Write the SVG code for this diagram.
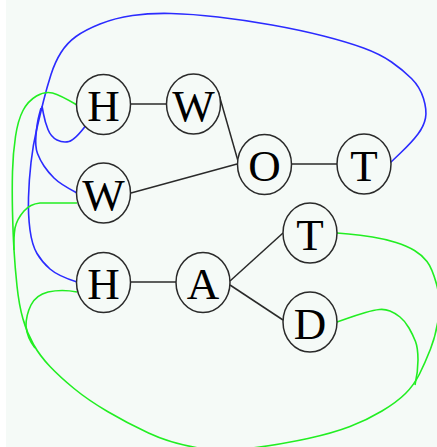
<svg xmlns="http://www.w3.org/2000/svg" width="437" height="447" viewBox="0 0 437 447">
  <style>
    .node ellipse { fill: #f5faf7; stroke: #2a2a2a; stroke-width: 1.5; }
    .node text { font-family: "Liberation Serif", "Times New Roman", serif; font-size: 45px; fill: #000; text-anchor: middle; }
    .edge { stroke: #2a2a2a; stroke-width: 1.5; fill: none; }
    .blue { stroke: #2b2bff; stroke-width: 1.6; fill: none; }
    .green { stroke: #22ee22; stroke-width: 1.6; fill: none; }
  </style>
  <rect x="0" y="0" width="437" height="447" fill="#ffffff"/>
  <rect x="6" y="0" width="431" height="447" fill="#f5faf7"/>

  <g id="connectors">
    <!-- tree edges -->
    <path class="edge" d="M130.5,104 H166.5"/>
    <path class="edge" d="M218,91 L238,161"/>
    <path class="edge" d="M131,193 L237,164"/>
    <path class="edge" d="M291.5,164 H337"/>
    <path class="edge" d="M130.5,282 H176"/>
    <path class="edge" d="M230,281 L283,233"/>
    <path class="edge" d="M230,285 L283,320"/>

    <!-- blue bundle -->
    <path class="blue" d="M390,163 L401,152.5 Q412,142 418,134 Q424,126 425.5,118 Q427,110 423.5,98.5 Q420,87 411.5,78.5 Q403,70 391.5,62 Q380,54 363.5,48 Q347,42 323.5,36 Q300,30 272,25 Q244,20 218,17 Q192,14 171,13.5 Q150,13 132.5,15.5 Q115,18 100,24 Q85,30 76,36.5 Q67,43 61,52.5 Q55,62 51,74.5 Q47,87 43.5,101 Q40,115 36.5,130 Q33,145 31,162.5 Q29,180 28.5,197.5 Q28,215 30,230 Q32,245 37,253.5 Q42,262 50,269 Q58,276 77,282"/>
    <path class="blue" d="M42,106 L43.5,114 Q45,122 48,129.5 Q51,137 57,140 Q63,143 69,141.5 Q75,140 87,124"/>
    <path class="blue" d="M41,108 L39,115.5 Q37,123 36,135 Q35,147 37.5,153.5 Q40,160 44,166 Q48,172 54,178 Q60,184 77,193"/>

    <!-- green bundle -->
    <path class="green" d="M337,233 L348.5,234 Q360,235 372.5,237 Q385,239 396,242.5 Q407,246 414.5,250.5 Q422,255 427,261.5 Q432,268 436.5,284 Q441,300 438.5,317.5 Q436,335 430.5,349 Q425,363 419.5,374 Q414,385 405.5,393.5 Q397,402 382,411 Q367,420 350,426.5 Q333,433 308,438.5 Q283,444 252.5,448 Q222,452 196,447.5 Q170,443 148.5,433 Q127,423 107.5,411.5 Q88,400 74,388.5 Q60,377 50,366.5 Q40,356 33.5,344.5 Q27,333 23,319 Q19,305 17,286 Q15,267 14,250 Q13,233 12.5,211.5 Q12,190 12.5,171.5 Q13,153 15.5,136.5 Q18,120 23,110.5 Q28,101 36.5,96 Q45,91 52.5,93 Q60,95 77,105"/>
    <path class="green" d="M337,322 L347,318.5 Q357,315 365.5,312.5 Q374,310 379.5,309.5 Q385,309 390,311 Q395,313 400,317 Q405,321 409,328 Q413,335 415.5,341.5 Q418,348 418,360 Q418,372 415,385"/>
    <path class="green" d="M77,203 L40,203 Q30,204 24,211 Q17,219 15,228 Q13.5,237 14,250"/>
    <path class="green" d="M77,292 Q62,289 48,292 Q36,295 31,305 Q26,315 26,326 Q27,338 35,348"/>
  </g>

  <g id="node-h1" class="node"><ellipse cx="103.5" cy="104.5" rx="27" ry="30"/><text x="103.5" y="121">H</text></g>
  <g id="node-w1" class="node"><ellipse cx="193.5" cy="104" rx="27" ry="30"/><text x="193.5" y="121">W</text></g>
  <g id="node-o" class="node"><ellipse cx="264.5" cy="164.5" rx="27" ry="30"/><text x="264.5" y="181">O</text></g>
  <g id="node-t1" class="node"><ellipse cx="364" cy="164" rx="27" ry="30"/><text x="364" y="181">T</text></g>
  <g id="node-w2" class="node"><ellipse cx="103.5" cy="193" rx="27" ry="30"/><text x="103.5" y="210">W</text></g>
  <g id="node-h2" class="node"><ellipse cx="103.5" cy="282.5" rx="27" ry="30"/><text x="103.5" y="299">H</text></g>
  <g id="node-a" class="node"><ellipse cx="203" cy="282.5" rx="27" ry="30"/><text x="203" y="299">A</text></g>
  <g id="node-t2" class="node"><ellipse cx="310" cy="233" rx="27" ry="30"/><text x="310" y="250">T</text></g>
  <g id="node-d" class="node"><ellipse cx="310" cy="322" rx="27" ry="30"/><text x="310" y="339">D</text></g>
</svg>
